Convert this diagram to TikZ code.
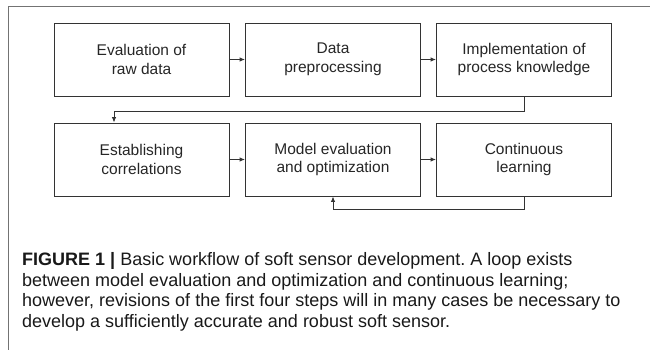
\documentclass[tikz,border=0pt]{standalone}
\usepackage{fontspec}
\setmainfont{Liberation Sans}
\usetikzlibrary{arrows.meta}
\frenchspacing
\begin{document}
\begin{tikzpicture}[x=1pt,y=-1pt,
  stepbox/.style={draw=black!80,line width=0.9pt,minimum width=175pt,minimum height=73pt,inner sep=0pt,align=center,font=\fontsize{15.5}{18.5}\selectfont,text=black!85},
  conn/.style={draw=black!80,line width=0.9pt,-{Latex[length=5.5pt,width=4.5pt]}},
  captxt/.style={anchor=base west,inner sep=0pt,font=\fontsize{18}{20}\selectfont,text=black!90}]
\useasboundingbox (0,0) rectangle (650,350);
\draw[black!55,line width=0.9pt] (8,350) -- (8,6) -- (650,6);
\node[stepbox] (a) at (141.5,59.5) {Evaluation of\\raw data};
\node[stepbox] (b) at (333,59.5) {Data\\preprocessing};
\node[stepbox] (c) at (524,59.5) {Implementation of\\process knowledge};
\node[stepbox] (d) at (141.5,159.5) {Establishing\\correlations};
\node[stepbox] (e) at (333,159.5) {Model evaluation\\and optimization};
\node[stepbox] (f) at (524,159.5) {Continuous\\learning};
\draw[conn] (a) -- (b);
\draw[conn] (b) -- (c);
\draw[conn] (d) -- (e);
\draw[conn] (e) -- (f);
\coordinate (k1) at (524,111);
\coordinate (k2) at (114,111);
\draw[conn] (c.south) -- (k1) -- (k2) -- (k2 |- d.north);
\coordinate (k3) at (524,209);
\coordinate (k4) at (333,209);
\draw[conn] (f.south) -- (k3) -- (k4) -- (e.south);
\node[captxt] (l1) at (22,265) {\textbf{FIGURE 1 |} Basic workflow of soft sensor development. A loop exists};
\node[captxt] (l2) at (22,286) {between model evaluation and optimization and continuous learning;};
\node[captxt] (l3) at (22,306.5) {however, revisions of the first four steps will in many cases be necessary to};
\node[captxt] (l4) at (22,327) {develop a sufficiently accurate and robust soft sensor.};
\end{tikzpicture}
\end{document}
